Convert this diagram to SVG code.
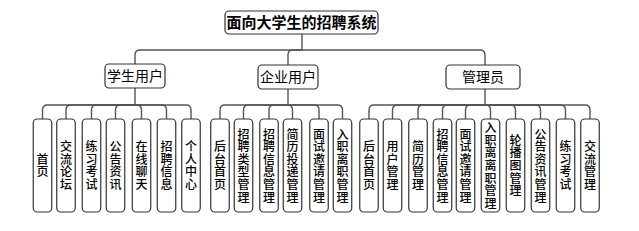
<svg xmlns="http://www.w3.org/2000/svg" width="639" height="231" viewBox="0 0 639 231">
<style>
.box{fill:#fff;stroke:#333;stroke-width:1.2}
.con{fill:none;stroke:#555;stroke-width:1.4}
.t{font-family:"Noto Sans CJK SC","Microsoft YaHei",sans-serif;fill:#000;text-anchor:middle}
.title{font-size:15px;font-weight:bold}
.mid{font-size:14px}
.leaf{font-size:12px;font-weight:500;writing-mode:vertical-rl;text-orientation:upright;letter-spacing:0.6px;dominant-baseline:central}
</style>
<rect width="639" height="231" fill="#fff"/>
<g id="connectors">
<path class="con" d="M302,34 V50 H140 Q135,50 135,55 V64"/>
<path class="con" d="M302,50 H293 Q288,50 288,55 V65"/>
<path class="con" d="M302,50 H480 Q485,50 485,55 V65"/>
<path class="con" d="M135,88 V105 H47.5 Q42.5,105 42.5,110 V119"/>
<path class="con" d="M135,105 H71 Q66,105 66,110 V119"/>
<path class="con" d="M135,105 H96.5 Q91.5,105 91.5,110 V119"/>
<path class="con" d="M135,105 H120.5 Q115.5,105 115.5,110 V119"/>
<path class="con" d="M135,105 H136.5 Q141.5,105 141.5,110 V119"/>
<path class="con" d="M135,105 H161.5 Q166.5,105 166.5,110 V119"/>
<path class="con" d="M135,105 H186 Q191,105 191,110 V119"/>
<path class="con" d="M288,89 V105 H225 Q220,105 220,110 V119"/>
<path class="con" d="M288,105 H248.5 Q243.5,105 243.5,110 V119"/>
<path class="con" d="M288,105 H274 Q269,105 269,110 V119"/>
<path class="con" d="M288,105 H287.5 Q292.5,105 292.5,110 V119"/>
<path class="con" d="M288,105 H314 Q319,105 319,110 V119"/>
<path class="con" d="M288,105 H337.5 Q342.5,105 342.5,110 V119"/>
<path class="con" d="M485,89 V105 H374 Q369,105 369,110 V119"/>
<path class="con" d="M485,105 H397.5 Q392.5,105 392.5,110 V119"/>
<path class="con" d="M485,105 H423 Q418,105 418,110 V119"/>
<path class="con" d="M485,105 H447.5 Q442.5,105 442.5,110 V119"/>
<path class="con" d="M485,105 H470.5 Q465.5,105 465.5,110 V119"/>
<path class="con" d="M485,105 H485.5 Q490.5,105 490.5,110 V119"/>
<path class="con" d="M485,105 H510.5 Q515.5,105 515.5,110 V119"/>
<path class="con" d="M485,105 H535.5 Q540.5,105 540.5,110 V119"/>
<path class="con" d="M485,105 H560.5 Q565.5,105 565.5,110 V119"/>
<path class="con" d="M485,105 H585 Q590,105 590,110 V119"/>
</g>
<g id="root"><rect class="box" x="225" y="11" width="153" height="23" rx="4"/><text class="t title" x="301.5" y="28">面向大学生的招聘系统</text></g>
<g id="student"><rect class="box" x="105" y="64" width="60" height="24" rx="4"/><text class="t mid" x="135" y="81">学生用户</text></g>
<g id="enterprise"><rect class="box" x="258" y="65" width="60" height="24" rx="4"/><text class="t mid" x="288" y="82">企业用户</text></g>
<g id="admin"><rect class="box" x="446" y="65" width="74" height="24" rx="4"/><text class="t mid" x="483" y="82">管理员</text></g>

<g id="s1"><rect class="box" x="33.25" y="119" width="18.5" height="93" rx="4"/><text class="t leaf" x="42.5" y="165.8">首页</text></g>
<g id="s2"><rect class="box" x="56.75" y="119" width="18.5" height="93" rx="4"/><text class="t leaf" x="66" y="165.8">交流论坛</text></g>
<g id="s3"><rect class="box" x="82.25" y="119" width="18.5" height="93" rx="4"/><text class="t leaf" x="91.5" y="165.8">练习考试</text></g>
<g id="s4"><rect class="box" x="106.25" y="119" width="18.5" height="93" rx="4"/><text class="t leaf" x="115.5" y="165.8">公告资讯</text></g>
<g id="s5"><rect class="box" x="132.25" y="119" width="18.5" height="93" rx="4"/><text class="t leaf" x="141.5" y="165.8">在线聊天</text></g>
<g id="s6"><rect class="box" x="157.25" y="119" width="18.5" height="93" rx="4"/><text class="t leaf" x="166.5" y="165.8">招聘信息</text></g>
<g id="s7"><rect class="box" x="181.75" y="119" width="18.5" height="93" rx="4"/><text class="t leaf" x="191" y="165.8">个人中心</text></g>

<g id="e1"><rect class="box" x="210.75" y="119" width="18.5" height="93" rx="4"/><text class="t leaf" x="220" y="165.8">后台首页</text></g>
<g id="e2"><rect class="box" x="234.25" y="119" width="18.5" height="93" rx="4"/><text class="t leaf" x="243.5" y="165.8">招聘类型管理</text></g>
<g id="e3"><rect class="box" x="259.75" y="119" width="18.5" height="93" rx="4"/><text class="t leaf" x="269" y="165.8">招聘信息管理</text></g>
<g id="e4"><rect class="box" x="283.25" y="119" width="18.5" height="93" rx="4"/><text class="t leaf" x="292.5" y="165.8">简历投递管理</text></g>
<g id="e5"><rect class="box" x="309.75" y="119" width="18.5" height="93" rx="4"/><text class="t leaf" x="319" y="165.8">面试邀请管理</text></g>
<g id="e6"><rect class="box" x="333.25" y="119" width="18.5" height="93" rx="4"/><text class="t leaf" x="342.5" y="165.8">入职离职管理</text></g>

<g id="a1"><rect class="box" x="359.75" y="119" width="18.5" height="93" rx="4"/><text class="t leaf" x="369" y="165.8">后台首页</text></g>
<g id="a2"><rect class="box" x="383.25" y="119" width="18.5" height="93" rx="4"/><text class="t leaf" x="392.5" y="165.8">用户管理</text></g>
<g id="a3"><rect class="box" x="408.75" y="119" width="18.5" height="93" rx="4"/><text class="t leaf" x="418" y="165.8">简历管理</text></g>
<g id="a4"><rect class="box" x="433.25" y="119" width="18.5" height="93" rx="4"/><text class="t leaf" x="442.5" y="165.8">招聘信息管理</text></g>
<g id="a5"><rect class="box" x="456.25" y="119" width="18.5" height="93" rx="4"/><text class="t leaf" x="465.5" y="165.8">面试邀请管理</text></g>
<g id="a6"><rect class="box" x="481.25" y="119" width="18.5" height="93" rx="4"/><text class="t leaf" x="490.5" y="165.8">入职离离职管理</text></g>
<g id="a7"><rect class="box" x="506.25" y="119" width="18.5" height="93" rx="4"/><text class="t leaf" x="515.5" y="165.8">轮播图管理</text></g>
<g id="a8"><rect class="box" x="531.25" y="119" width="18.5" height="93" rx="4"/><text class="t leaf" x="540.5" y="165.8">公告资讯管理</text></g>
<g id="a9"><rect class="box" x="556.25" y="119" width="18.5" height="93" rx="4"/><text class="t leaf" x="565.5" y="165.8">练习考试</text></g>
<g id="a10"><rect class="box" x="580.75" y="119" width="18.5" height="93" rx="4"/><text class="t leaf" x="590" y="165.8">交流管理</text></g>
</svg>
